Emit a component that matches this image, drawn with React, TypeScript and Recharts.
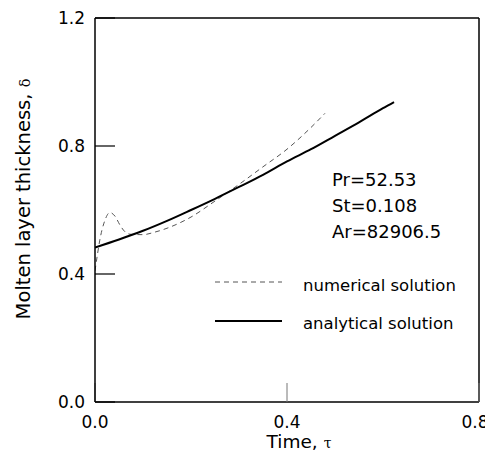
import { Label, Legend, Line, LineChart, ReferenceLine, XAxis, YAxis } from 'recharts'

const FONT = '"DejaVu Sans", sans-serif'
const GREEK = '"DejaVu Serif", serif'

// dimensionless time, tau
const numericalTau = [0, 0.005, 0.01, 0.02, 0.031, 0.042, 0.052, 0.0625, 0.075, 0.1, 0.125, 0.15, 0.2, 0.25, 0.3, 0.35, 0.4, 0.45, 0.479]
const numericalDelta = [0.41, 0.46, 0.506, 0.565, 0.592, 0.58, 0.553, 0.532, 0.524, 0.523, 0.531, 0.543, 0.578, 0.628, 0.68, 0.735, 0.79, 0.858, 0.902]

const analyticalTau = [0, 0.05, 0.1, 0.15, 0.2, 0.25, 0.3, 0.35, 0.4, 0.45, 0.5, 0.55, 0.6, 0.623]
const analyticalDelta = [0.483, 0.508, 0.535, 0.566, 0.6, 0.635, 0.672, 0.71, 0.752, 0.79, 0.832, 0.874, 0.918, 0.937]

const xTicks = [0, 0.4, 0.8]
const yTicks = [0, 0.4, 0.8, 1.2]

const legendItems = [
  { label: 'numerical solution', dash: '5 4', width: 1, color: '#555' },
  { label: 'analytical solution', dash: undefined, width: 2, color: '#000' },
]
const paramLines = ['Pr=52.53', 'St=0.108', 'Ar=82906.5']

const numericalData = numericalTau.map((tau, i) => ({ tau, delta: numericalDelta[i] }))
const analyticalData = analyticalTau.map((tau, i) => ({ tau, delta: analyticalDelta[i] }))

const tickFormatter = (v: number) => v.toFixed(1)

// last label sits on the page edge, nudge it in a bit so it isn't clipped
const XTick = ({ x, y, payload }: any) => {
  const last = payload.value === xTicks[xTicks.length - 1]
  return (
    <text x={x + (last ? -4 : 0)} y={y} dy="0.71em" textAnchor="middle" fontFamily={FONT} fontSize={17} fill="#000">
      {tickFormatter(payload.value)}
    </text>
  )
}

const YTitle = () => (
  <text
    x={22}
    y={191}
    transform="rotate(-90 22 191)"
    textAnchor="middle"
    fontFamily={FONT}
    fontSize={19.5}
    fill="#000">
    Molten layer thickness,{'  '}
    <tspan fontFamily={GREEK} fontSize={14.5}>δ</tspan>
  </text>
)

const XTitle = () => (
  <text x={291} y={440} textAnchor="middle" fontFamily={FONT} fontSize={18.5} fill="#000">
    Time,{' '}
    <tspan fontFamily={GREEK} fontSize={14}>τ</tspan>
  </text>
)

const Overlay = () => (
  <svg width={485} height={444} style={{ position: 'absolute', left: 0, top: 0, display: 'block' }}>
    {paramLines.map((t, i) => (
      <text key={t} x={324} y={178 + i * 26} fontFamily={FONT} fontSize={18} fill="#000">
        {t}
      </text>
    ))}
    {legendItems.map((item, i) => (
      <g key={item.label}>
        <line
          x1={207}
          x2={274}
          y1={274 + i * 39}
          y2={274 + i * 39}
          stroke={item.color}
          strokeWidth={item.width}
          strokeDasharray={item.dash}
        />
        <text x={295} y={283 + i * 38} fontFamily={FONT} fontSize={16.5} fill="#000">
          {item.label}
        </text>
      </g>
    ))}
  </svg>
)

export default function App() {
  return (
    <div style={{ width: 485, height: 444, overflow: 'hidden' }}>
      <style>{'.recharts-surface{overflow:visible}'}</style>
      <LineChart width={485} height={444} margin={{ top: 10, right: 14, left: 27, bottom: 0 }}>
        <XAxis
          type="number"
          dataKey="tau"
          domain={[0, 0.8]}
          ticks={xTicks}
          allowDataOverflow
          interval={0}
          height={50}
          tickSize={-19}
          tickMargin={33}
          tick={XTick}
          tickLine={{ stroke: '#777', strokeWidth: 1 }}
          axisLine={{ stroke: '#000', strokeWidth: 1.5 }}>
          <Label content={XTitle} />
        </XAxis>
        <YAxis
          type="number"
          domain={[0, 1.2]}
          ticks={yTicks}
          tickFormatter={tickFormatter}
          allowDataOverflow
          width={60}
          tickSize={-20}
          tickMargin={30}
          tick={{ fill: '#000', fontSize: 17, fontFamily: FONT }}
          tickLine={{ stroke: '#000', strokeWidth: 1.2 }}
          axisLine={{ stroke: '#000', strokeWidth: 1.5 }}>
          <Label content={YTitle} />
        </YAxis>
        <ReferenceLine y={1.2} stroke="#000" strokeWidth={1.5} />
        <ReferenceLine x={0.8} stroke="#000" strokeWidth={1.5} />
        <Line
          data={numericalData}
          dataKey="delta"
          type="monotone"
          stroke="#555"
          strokeWidth={1}
          strokeDasharray="5 4"
          dot={false}
          isAnimationActive={false}
        />
        <Line
          data={analyticalData}
          dataKey="delta"
          type="monotone"
          stroke="#000"
          strokeWidth={2}
          dot={false}
          isAnimationActive={false}
        />
        <Legend
          layout="vertical"
          align="center"
          verticalAlign="middle"
          content={Overlay}
          wrapperStyle={{ left: 0, top: 0, width: 485, height: 444, pointerEvents: 'none', overflow: 'hidden' }}
        />
      </LineChart>
    </div>
  )
}
